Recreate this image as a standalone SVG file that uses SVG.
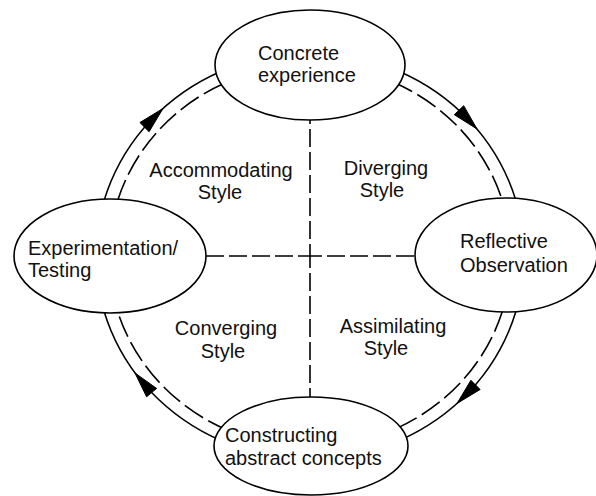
<svg xmlns="http://www.w3.org/2000/svg" width="596" height="496" viewBox="0 0 596 496">
  <style>
    .line { fill: none; stroke: #000; stroke-width: 1.6; }
    .axis { fill: none; stroke: #000; stroke-width: 1.6; stroke-dasharray: 18 5; stroke-dashoffset: 6; }
    .inner { fill: none; stroke: #000; stroke-width: 1.6; stroke-dasharray: 22 6; }
    .node { fill: #fff; stroke: #000; stroke-width: 1.6; }
    .head { fill: #000; stroke: #000; stroke-width: 1; stroke-linejoin: miter; }
    text { font-family: "Liberation Sans", Arial, sans-serif; font-size: 20px; fill: #111; }
    .mid { text-anchor: middle; }
  </style>

  <!-- cycle ring, quadrant axes and direction arrows -->
  <g id="connectors">
    <ellipse class="line" cx="310" cy="256" rx="214" ry="203"/>
    <ellipse class="inner" cx="310" cy="256" rx="201" ry="191"/>
    <line class="axis" x1="310" y1="256" x2="200" y2="256"/>
    <line class="axis" x1="310" y1="256" x2="420" y2="256"/>
    <line class="axis" x1="310" y1="256" x2="310" y2="112"/>
    <line class="axis" x1="310" y1="256" x2="310" y2="402"/>
    <polygon class="head" points="477,129 454.3,114.7 463.7,105.7"/>
    <polygon class="head" points="457,403.5 480.1,389.5 470.9,380.3"/>
    <polygon class="head" points="135,373 156.6,388.4 146.6,396.8"/>
    <polygon class="head" points="163,108.5 149.1,131.7 139.9,122.5"/>
  </g>

  <g id="concrete-experience">
    <ellipse class="node" cx="310" cy="65" rx="95" ry="55"/>
    <text x="258" y="60">Concrete</text>
    <text x="258" y="82">experience</text>
  </g>

  <g id="reflective-observation">
    <ellipse class="node" cx="506" cy="255" rx="91" ry="57"/>
    <text x="460" y="248">Reflective</text>
    <text x="460" y="272">Observation</text>
  </g>

  <g id="abstract-concepts">
    <ellipse class="node" cx="311" cy="446" rx="97" ry="49"/>
    <text x="225" y="442">Constructing</text>
    <text x="225" y="465">abstract concepts</text>
  </g>

  <g id="experimentation">
    <ellipse class="node" cx="110" cy="256" rx="96" ry="57"/>
    <text x="28" y="255">Experimentation/</text>
    <text x="28" y="277">Testing</text>
  </g>

  <!-- learning style quadrants -->
  <g id="styles">
    <text class="mid" x="221" y="177">Accommodating</text>
    <text class="mid" x="220" y="199">Style</text>
    <text class="mid" x="386" y="175">Diverging</text>
    <text class="mid" x="382" y="197">Style</text>
    <text class="mid" x="226" y="335">Converging</text>
    <text class="mid" x="223" y="358">Style</text>
    <text class="mid" x="393" y="333">Assimilating</text>
    <text class="mid" x="386" y="355">Style</text>
  </g>
</svg>
